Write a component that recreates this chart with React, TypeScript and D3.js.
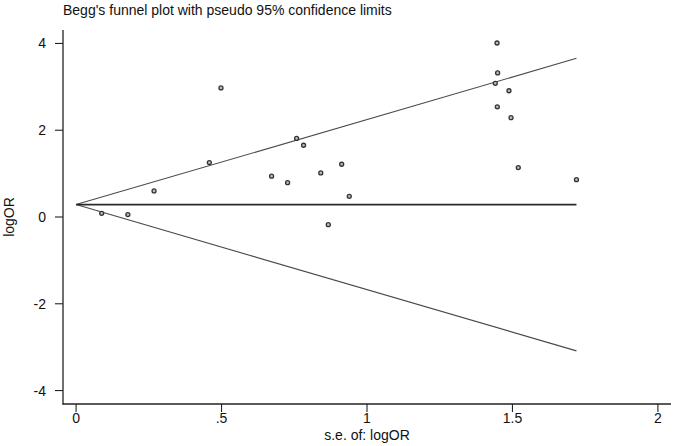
import React, { useEffect, useRef } from 'react';
import * as d3 from 'd3';

// standard error of logOR for each study
const seValues = [
  0.088, 0.178, 0.268, 0.458, 0.498, 0.672, 0.727, 0.758, 0.782, 0.841, 0.867,
  0.913, 0.939, 1.441, 1.447, 1.448, 1.449, 1.488, 1.495, 1.52, 1.72
];
// logOR for each study
const logOrValues = [
  0.085, 0.056, 0.6, 1.255, 2.976, 0.94, 0.79, 1.81, 1.654, 1.015, -0.176,
  1.216, 0.477, 3.08, 4.01, 2.54, 3.32, 2.91, 2.29, 1.14, 0.86
];
const pooledLogOr = 0.286;
const zCrit = 1.96;

const xTicks = [0, 0.5, 1, 1.5, 2];
const xTickLabels = ['0', '.5', '1', '1.5', '2'];
const yTicks = [4, 2, 0, -2, -4];
const yTickLabels = ['4', '2', '0', '-2', '-4'];

const W = 675;
const H = 446;
const FONT = '"Liberation Sans", Arial, sans-serif';

const FunnelPlot = () => {
  const ref = useRef<SVGSVGElement>(null);

  useEffect(() => {
    const svg = d3.select(ref.current);
    svg.selectAll('*').remove();

    const x = d3.scaleLinear().domain([-0.045, 2.045]).range([63, 671]);
    const y = d3.scaleLinear().domain([-4.31, 4.31]).range([404, 30]);

    const maxSe = d3.max(seValues) as number;
    const lineGen = d3
      .line<[number, number]>()
      .x(d => x(d[0]))
      .y(d => y(d[1]));

    const g = svg.append('g');

    // funnel limits and pooled estimate
    const funnel: [number, number][][] = [
      [[0, pooledLogOr], [maxSe, pooledLogOr + zCrit * maxSe]],
      [[0, pooledLogOr], [maxSe, pooledLogOr - zCrit * maxSe]]
    ];
    g.selectAll('path.limit')
      .data(funnel)
      .enter()
      .append('path')
      .attr('class', 'limit')
      .attr('d', d => lineGen(d))
      .attr('fill', 'none')
      .attr('stroke', '#4a4a4a')
      .attr('stroke-width', 1.1);

    g.append('path')
      .attr('d', lineGen([[0, pooledLogOr], [maxSe, pooledLogOr]]))
      .attr('fill', 'none')
      .attr('stroke', '#2a2a2a')
      .attr('stroke-width', 1.6);

    // studies
    g.selectAll('circle')
      .data(seValues.map((s, i) => [s, logOrValues[i]]))
      .enter()
      .append('circle')
      .attr('cx', d => x(d[0]))
      .attr('cy', d => y(d[1]))
      .attr('r', 2)
      .attr('fill', '#bbb')
      .attr('stroke', '#333')
      .attr('stroke-width', 1.3);

    // axes
    const axisColor = '#222';
    g.append('line')
      .attr('x1', 63).attr('x2', 63)
      .attr('y1', 30).attr('y2', 404.5)
      .attr('stroke', axisColor).attr('stroke-width', 1.3);
    g.append('line')
      .attr('x1', 62.5).attr('x2', 671)
      .attr('y1', 404).attr('y2', 404)
      .attr('stroke', axisColor).attr('stroke-width', 1.3);

    const yt = g.selectAll('g.ytick').data(yTicks).enter().append('g').attr('class', 'ytick');
    yt.append('line')
      .attr('x1', 55).attr('x2', 63)
      .attr('y1', d => y(d)).attr('y2', d => y(d))
      .attr('stroke', axisColor).attr('stroke-width', 1.1);
    yt.append('text')
      .attr('x', 46)
      .attr('y', d => y(d) + 5)
      .attr('text-anchor', 'end')
      .attr('font-family', FONT)
      .attr('font-size', 14)
      .attr('fill', '#111')
      .text((d, i) => yTickLabels[i]);

    const xt = g.selectAll('g.xtick').data(xTicks).enter().append('g').attr('class', 'xtick');
    xt.append('line')
      .attr('x1', d => x(d)).attr('x2', d => x(d))
      .attr('y1', 404).attr('y2', 412)
      .attr('stroke', axisColor).attr('stroke-width', 1.1);
    xt.append('text')
      .attr('x', d => x(d))
      .attr('y', 423)
      .attr('text-anchor', 'middle')
      .attr('font-family', FONT)
      .attr('font-size', 14)
      .attr('fill', '#111')
      .text((d, i) => xTickLabels[i]);

    // titles
    svg.append('text')
      .attr('x', 63)
      .attr('y', 15)
      .attr('font-family', FONT)
      .attr('font-size', 14)
      .attr('fill', '#111')
      .text("Begg's funnel plot with pseudo 95% confidence limits");

    svg.append('text')
      .attr('x', x(1))
      .attr('y', 440)
      .attr('text-anchor', 'middle')
      .attr('font-family', FONT)
      .attr('font-size', 14)
      .attr('fill', '#111')
      .text('s.e. of: logOR');

    svg.append('text')
      .attr('transform', `translate(14, ${y(0)}) rotate(-90)`)
      .attr('text-anchor', 'middle')
      .attr('font-family', FONT)
      .attr('font-size', 14)
      .attr('fill', '#111')
      .text('logOR');
  }, []);

  return (
    <svg
      ref={ref}
      width={W}
      height={H}
      style={{ position: 'absolute', left: 0, top: 0, background: 'white' }}
    />
  );
};

export default function App() {
  return <FunnelPlot />;
}
